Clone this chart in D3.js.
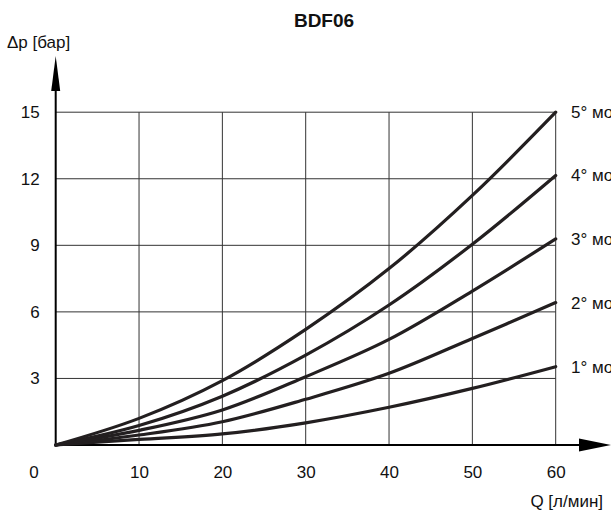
<!DOCTYPE html>
<html>
<head>
<meta charset="utf-8">
<script src="https://cdn.jsdelivr.net/npm/d3@7"></script>
<style>
  body { margin: 0; background: #fff; overflow: hidden; }
  svg { display: block; font-family: "Liberation Sans", Arial, sans-serif; }
</style>
</head>
<body>
<svg id="chart" width="611" height="510"></svg>
<script>
// flow values [l/min] and pressure drop per setting [bar]
var flow = [0, 10, 20, 30, 40, 50, 60];
var dp1 = [0, 0.25, 0.5, 1.0, 1.7, 2.55, 3.53];
var dp2 = [0, 0.45, 1.05, 2.06, 3.23, 4.8, 6.42];
var dp3 = [0, 0.66, 1.58, 3.08, 4.76, 6.94, 9.29];
var dp4 = [0, 0.88, 2.2, 4.05, 6.31, 9.05, 12.15];
var dp5 = [0, 1.2, 2.9, 5.21, 7.95, 11.25, 15.0];
var seriesNames = ["1° мод.", "2° мод.", "3° мод.", "4° мод.", "5° мод."];
var xTicks = [10, 20, 30, 40, 50, 60];
var yTicks = [3, 6, 9, 12, 15];

var series = [dp1, dp2, dp3, dp4, dp5].map(function(v, i) {
  return { name: seriesNames[i], values: v.map(function(d, j) { return { q: flow[j], p: d }; }) };
});

var svg = d3.select("#chart");

var x = d3.scaleLinear().domain([0, 60]).range([55.7, 555.7]);
var y = d3.scaleLinear().domain([0, 15]).range([445, 112.2]);

// grid
var grid = svg.append("g").attr("stroke", "#333").attr("stroke-width", 1);
grid.selectAll(".gx").data(xTicks).enter().append("line")
  .attr("x1", function(d) { return x(d); }).attr("x2", function(d) { return x(d); })
  .attr("y1", y(0)).attr("y2", y(15));
grid.selectAll(".gy").data(yTicks).enter().append("line")
  .attr("x1", x(0)).attr("x2", x(60))
  .attr("y1", function(d) { return y(d); }).attr("y2", function(d) { return y(d); });

// axes lines with arrows
svg.append("line").attr("x1", x(0)).attr("x2", x(0))
  .attr("y1", y(0) + 1).attr("y2", 90)
  .attr("stroke", "#000").attr("stroke-width", 2);
svg.append("path").attr("d", "M" + x(0) + ",56 L" + (x(0) - 4.5) + ",91 L" + (x(0) + 4.5) + ",91 Z")
  .attr("fill", "#000");
svg.append("line").attr("x1", x(0) - 1).attr("x2", 580)
  .attr("y1", y(0)).attr("y2", y(0))
  .attr("stroke", "#000").attr("stroke-width", 2);
svg.append("path").attr("d", "M611," + y(0) + " L579," + (y(0) - 6.5) + " L579," + (y(0) + 6.5) + " Z")
  .attr("fill", "#000");

// tick labels
var xAxis = svg.append("g")
  .attr("transform", "translate(0," + y(0) + ")")
  .call(d3.axisBottom(x).tickValues(xTicks).tickSize(0).tickPadding(21));
xAxis.select(".domain").remove();
xAxis.selectAll("text").attr("font-size", 17).attr("fill", "#111")
  .attr("font-family", "Liberation Sans, Arial, sans-serif");

var yAxis = svg.append("g")
  .attr("transform", "translate(" + x(0) + ",0)")
  .call(d3.axisLeft(y).tickValues(yTicks).tickSize(0).tickPadding(16));
yAxis.select(".domain").remove();
yAxis.selectAll("text").attr("font-size", 17).attr("fill", "#111")
  .attr("font-family", "Liberation Sans, Arial, sans-serif");

svg.append("text").attr("x", 34).attr("y", 478)
  .attr("text-anchor", "middle").attr("font-size", 17).attr("fill", "#111").text("0");

// curves
var line = d3.line()
  .x(function(d) { return x(d.q); })
  .y(function(d) { return y(d.p); })
  .curve(d3.curveCatmullRom.alpha(0.5));

svg.selectAll(".curve").data(series).enter().append("path")
  .attr("class", "curve")
  .attr("d", function(d) { return line(d.values); })
  .attr("fill", "none").attr("stroke", "#231f20").attr("stroke-width", 3.2)
  .attr("stroke-linecap", "round");

// curve labels (cut by the page edge, as in the source)
svg.selectAll(".clabel").data(series).enter().append("text")
  .attr("x", 571)
  .attr("y", function(d) { return y(d.values[d.values.length - 1].p); })
  .attr("dy", "0.35em")
  .attr("font-size", 17).attr("fill", "#111")
  .text(function(d) { return d.name; });

// titles
svg.append("text").attr("x", 324).attr("y", 27)
  .attr("text-anchor", "middle").attr("font-size", 19).attr("font-weight", "bold")
  .attr("fill", "#111").text("BDF06");
svg.append("text").attr("x", 7).attr("y", 48)
  .attr("font-size", 17).attr("fill", "#111").text("Δp [бар]");
svg.append("text").attr("x", 603).attr("y", 507)
  .attr("text-anchor", "end").attr("font-size", 17).attr("fill", "#111").text("Q [л/мин]");
</script>
</body>
</html>
